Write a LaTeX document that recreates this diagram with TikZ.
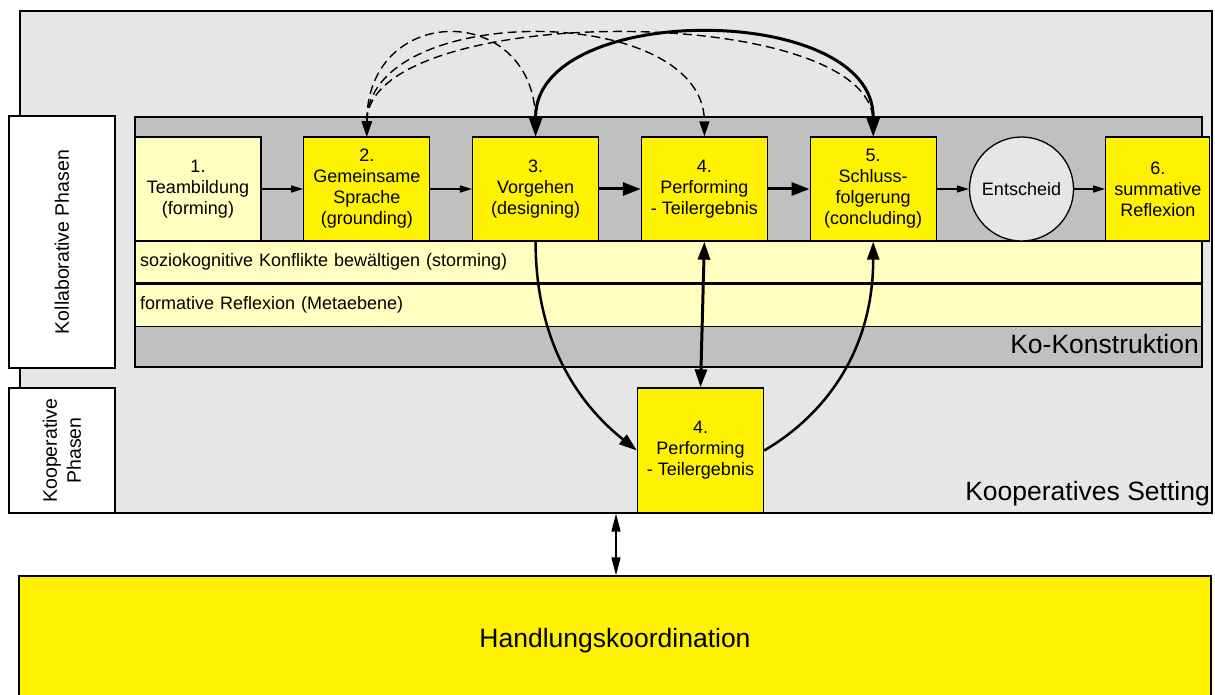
\documentclass[tikz,border=0pt]{standalone}
\usepackage{fontspec}
\setmainfont{Liberation Sans}
\usetikzlibrary{positioning,arrows.meta}

\definecolor{settinggrey}{RGB}{230,230,230}
\definecolor{kogrey}{RGB}{192,192,192}
\definecolor{paleyellow}{RGB}{255,255,192}

\tikzset{
    frame/.style={draw, line width=1.3pt},
    phase/.style={frame, fill=yellow, minimum width=126pt, minimum height=104pt, inner sep=0pt, align=center},
    band/.style={frame, fill=paleyellow, minimum height=42pt, text width=1057pt, inner xsep=5pt, align=left},
    side/.style={frame, fill=white, rotate=90, align=center, font=\fontsize{19.5}{24}\selectfont},
    big/.style={font=\fontsize{26.5}{30}\selectfont},
    flow/.style={line width=1.2pt, -{Triangle[length=12pt,width=7pt]}},
    bold flow/.style={line width=3pt, -{Triangle[length=18pt,width=13pt]}},
    loop arc/.style={line width=3pt, {Triangle[length=20pt,width=14pt]}-{Triangle[length=20pt,width=14pt]}},
    back arc/.style={line width=1.4pt, dash pattern=on 9pt off 5pt, {Triangle[length=15pt,width=10pt]}-{Triangle[length=15pt,width=10pt]}},
    down flow/.style={line width=2.5pt, -{Triangle[length=18pt,width=12pt]}},
    both flow/.style={line width=3pt, {Triangle[length=18pt,width=12pt]}-{Triangle[length=18pt,width=12pt]}},
    coord flow/.style={line width=1.5pt, {Triangle[length=18pt,width=9pt]}-{Triangle[length=18pt,width=9pt]}}
}

\begin{document}
\begin{tikzpicture}[x=1pt, y=-1pt, font=\fontsize{18}{21}\selectfont]
    \clip (0,0) rectangle (1215,695);

    \node[frame, fill=settinggrey, minimum width=1192pt, minimum height=502pt] (setting) at (616,262) {};
    \node[frame, fill=kogrey, minimum width=1067pt, minimum height=250pt] (ko) at (668.5,242) {};
    \node[band] (storming) at (668.5,262) {soziokognitive Konflikte bewältigen (storming)};
    \node[band, below=0pt of storming] (meta) {formative Reflexion (Metaebene)};

    \node[phase, fill=paleyellow] (b1) at (198,189) {1.\\Teambildung\\(forming)};
    \node[phase, right=41.5pt of b1] (b2) {2.\\Gemeinsame\\Sprache\\(grounding)};
    \node[phase, right=41.5pt of b2] (b3) {3.\\Vorgehen\\(designing)};
    \node[phase, right=41.5pt of b3] (b4) {4.\\Performing\\- Teilergebnis};
    \node[phase, right=41.5pt of b4] (b5) {5.\\Schluss-\\folgerung\\(concluding)};
    \node[frame, circle, fill=settinggrey, minimum size=104pt, inner sep=0pt, right=32pt of b5] (entscheid) {Entscheid};
    \node[phase, minimum width=104pt, right=31pt of entscheid] (b6) {6.\\summative\\Reflexion};

    \node[phase, minimum height=125pt] (b4b) at (700.5,450.5) {4.\\Performing\\- Teilergebnis};

    \node[side, minimum width=252pt, minimum height=106pt] (kollab) at (62,242) {Kollaborative Phasen};
    \node[side, minimum width=125pt, minimum height=106pt] (koop) at (62,450.5) {Kooperative\\Phasen};

    \node[big, anchor=base east, inner sep=0pt] (kolabel) at (1199,353) {Ko-Konstruktion};
    \node[big, anchor=base east, inner sep=0pt] (setlabel) at (1210,500) {Kooperatives Setting};

    \node[frame, big, fill=yellow, minimum width=1192pt, minimum height=130pt] (hk) at (615,641) {Handlungskoordination};

    \draw[flow] (b1) -- (b2);
    \draw[flow] (b2) -- (b3);
    \draw[bold flow] (b3) -- (b4);
    \draw[bold flow] (b4) -- (b5);
    \draw[flow] (b5) -- (entscheid);
    \draw[flow] (entscheid) -- (b6);

    \draw[back arc] (b2.north) .. controls +(0,-135) and +(0,-135) .. (b3.north);
    \draw[back arc] (b2.north) .. controls +(0,-135) and +(0,-135) .. (b4.north);
    \draw[back arc] (b2.north) .. controls +(0,-135) and +(0,-135) .. (b5.north);
    \draw[loop arc] (b3.north) .. controls +(0,-135) and +(0,-135) .. (b5.north);

    \draw[both flow] (b4.south) -- (b4b.north);
    \draw[down flow] (b3.south) .. controls +(0,110) and +(-50,-40) .. (b4b.west);
    \draw[down flow] (b4b.east) .. controls +(60,-35) and +(0,110) .. (b5.south);
    \draw[coord flow] (setting.south) -- (setting.south |- hk.north);
\end{tikzpicture}
\end{document}
